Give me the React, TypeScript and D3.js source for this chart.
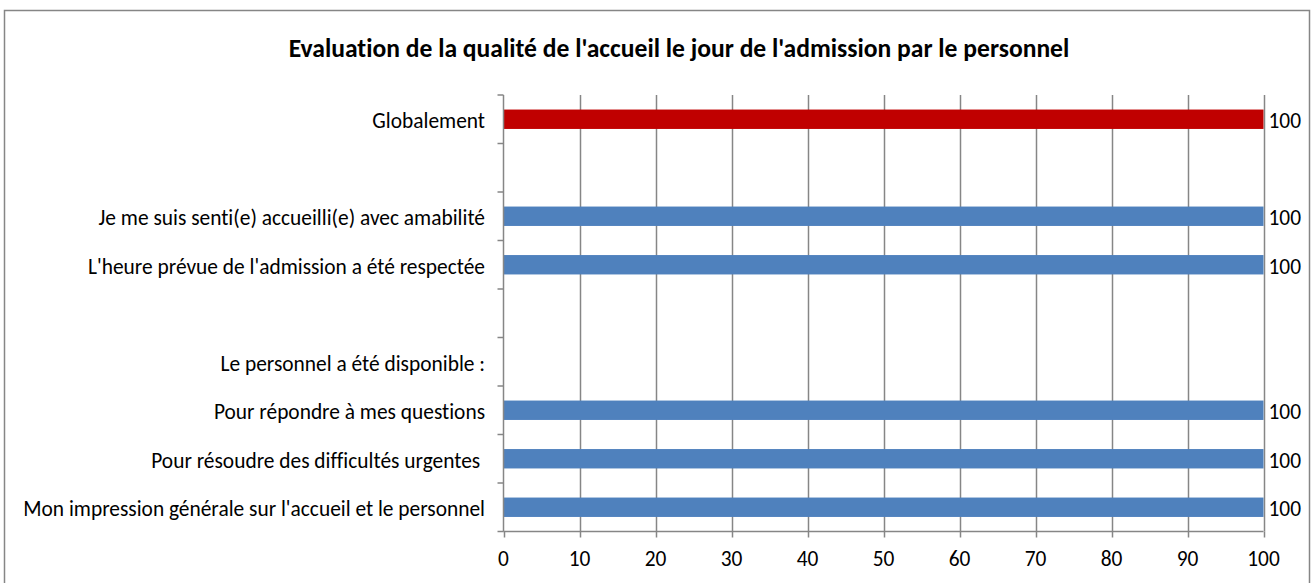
import React, { useEffect, useRef } from "react";
import * as d3 from "d3";

const categories = [
  "Globalement",
  "",
  "Je me suis senti(e) accueilli(e) avec amabilité",
  "L'heure prévue de l'admission a été respectée",
  "",
  "Le personnel a été disponible :",
  "Pour répondre à mes questions",
  "Pour résoudre des difficultés urgentes ",
  "Mon impression générale sur l'accueil et le personnel",
];
const values: (number | null)[] = [100, null, 100, 100, null, null, 100, 100, 100];
const xTicks = [0, 10, 20, 30, 40, 50, 60, 70, 80, 90, 100];
const title = "Evaluation de la qualité de l'accueil le jour de l'admission par le personnel";

const W = 1311;
const H = 583;
const FONT = "Carlito, Calibri, 'Open Sans', sans-serif";

const App = () => {
  const ref = useRef<SVGSVGElement>(null);

  useEffect(() => {
    const svg = d3.select(ref.current);
    svg.selectAll("*").remove();

    const left = 503.5, right = 1263.5, top = 95, bottom = 531.5;
    const x = d3.scaleLinear().domain([0, 100]).range([left, right]);
    const y = d3
      .scaleBand<number>()
      .domain(categories.map((_, i) => i))
      .range([top, bottom])
      .paddingInner(0.6)
      .paddingOuter(0.3);

    // chart border
    svg
      .append("rect")
      .attr("x", 4.5)
      .attr("y", 10.5)
      .attr("width", 1305)
      .attr("height", 580)
      .attr("fill", "white")
      .attr("stroke", "#868686")
      .attr("stroke-width", 1.5);

    svg
      .append("text")
      .attr("x", 679)
      .attr("y", 57)
      .attr("text-anchor", "middle")
      .attr("font-family", FONT)
      .attr("font-weight", "bold")
      .attr("font-size", 25.6)
      .text(title);

    // vertical gridlines
    svg
      .append("g")
      .selectAll("line")
      .data(xTicks.slice(1))
      .join("line")
      .attr("x1", (d) => Math.round(x(d)) + 0.5)
      .attr("x2", (d) => Math.round(x(d)) + 0.5)
      .attr("y1", top)
      .attr("y2", bottom)
      .attr("stroke", "#868686")
      .attr("stroke-width", 1.5);

    // bars
    const idx = values.map((v, i) => i).filter((i) => values[i] !== null);
    svg
      .append("g")
      .selectAll("rect")
      .data(idx)
      .join("rect")
      .attr("x", x(0))
      .attr("y", (i) => y(i)!)
      .attr("width", (i) => x(values[i]!) - x(0))
      .attr("height", y.bandwidth())
      .attr("fill", (i) => (i === 0 ? "#C00000" : "#4F81BD"));

    // value labels
    svg
      .append("g")
      .selectAll("text")
      .data(idx)
      .join("text")
      .attr("x", (i) => x(values[i]!) + 5)
      .attr("y", (i) => y(i)! + y.bandwidth() / 2)
      .attr("dy", "0.42em")
      .attr("font-family", FONT)
      .attr("font-size", 21.4)
      .text((i) => values[i]!);

    // y axis
    const step = (bottom - top) / categories.length;
    const yTickPos = d3.range(categories.length + 1).map((k) => top + k * step);
    svg
      .append("line")
      .attr("x1", left)
      .attr("x2", left)
      .attr("y1", top)
      .attr("y2", bottom)
      .attr("stroke", "#868686")
      .attr("stroke-width", 1.5);
    svg
      .append("g")
      .selectAll("line")
      .data(yTickPos)
      .join("line")
      .attr("x1", left - 6)
      .attr("x2", left)
      .attr("y1", (d) => d)
      .attr("y2", (d) => d)
      .attr("stroke", "#868686")
      .attr("stroke-width", 1.5);
    svg
      .append("g")
      .selectAll("text")
      .data(categories)
      .join("text")
      .attr("x", 485)
      .attr("y", (_, i) => y(i)! + y.bandwidth() / 2)
      .attr("dy", "0.42em")
      .attr("text-anchor", "end")
      .attr("font-family", FONT)
      .attr("font-size", 21.4)
      .style("white-space", "pre")
      .text((d) => d);

    // x axis
    svg
      .append("line")
      .attr("x1", left)
      .attr("x2", right)
      .attr("y1", bottom)
      .attr("y2", bottom)
      .attr("stroke", "#868686")
      .attr("stroke-width", 1.5);
    svg
      .append("g")
      .selectAll("line")
      .data(xTicks)
      .join("line")
      .attr("x1", (d) => Math.round(x(d)) + 0.5)
      .attr("x2", (d) => Math.round(x(d)) + 0.5)
      .attr("y1", bottom)
      .attr("y2", bottom + 6)
      .attr("stroke", "#868686")
      .attr("stroke-width", 1.5);
    svg
      .append("g")
      .selectAll("text")
      .data(xTicks)
      .join("text")
      .attr("x", (d) => x(d))
      .attr("y", 566)
      .attr("text-anchor", "middle")
      .attr("font-family", FONT)
      .attr("font-size", 21.4)
      .text((d) => d);
  }, []);

  return (
    <svg
      ref={ref}
      width={W}
      height={H}
      style={{ position: "absolute", left: 0, top: 0, fontVariantLigatures: "none" }}
    />
  );
};

export default App;
